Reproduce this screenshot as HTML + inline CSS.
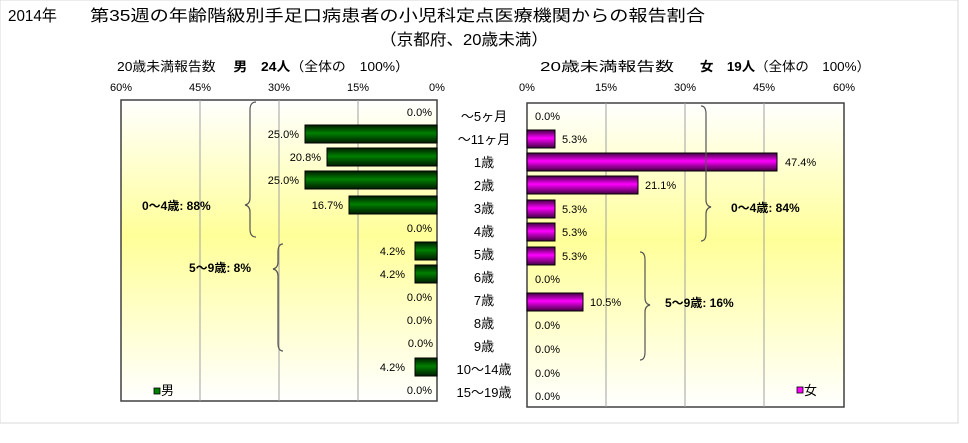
<!DOCTYPE html>
<html><head><meta charset="utf-8"><style>
body{margin:0;background:#fff;}
svg{display:block;font-family:"Liberation Sans","Noto Sans CJK JP",sans-serif;}
</style></head><body>
<svg width="968" height="443" viewBox="0 0 968 443" xmlns="http://www.w3.org/2000/svg">
<defs>
<linearGradient id="bg" x1="0" y1="0" x2="0" y2="1">
<stop offset="0" stop-color="#ffffff"/><stop offset="0.45" stop-color="#ffff99"/><stop offset="1" stop-color="#ffffff"/>
</linearGradient>
<linearGradient id="g" x1="0" y1="0" x2="0" y2="1">
<stop offset="0" stop-color="#001a00"/><stop offset="0.45" stop-color="#008000"/><stop offset="1" stop-color="#001a00"/>
</linearGradient>
<linearGradient id="m" x1="0" y1="0" x2="0" y2="1">
<stop offset="0" stop-color="#400040"/><stop offset="0.45" stop-color="#ff00ff"/><stop offset="1" stop-color="#400040"/>
</linearGradient>
</defs>
<rect x="0" y="0" width="958" height="423" fill="#fff" stroke="#d8d8d8"/>
<text x="8" y="21" font-size="16" textLength="49" lengthAdjust="spacingAndGlyphs">2014年</text>
<text x="90" y="21" font-size="16" textLength="615" lengthAdjust="spacingAndGlyphs">第35週の年齢階級別手足口病患者の小児科定点医療機関からの報告割合</text>
<text x="380" y="45" font-size="16" textLength="168" lengthAdjust="spacingAndGlyphs">（京都府、20歳未満）</text>
<text x="117" y="71" font-size="13" textLength="292" lengthAdjust="spacingAndGlyphs">20歳未満報告数　 <tspan font-weight="bold">男　24人</tspan>（全体の　100%）</text>
<text x="540" y="71" font-size="13" textLength="134" lengthAdjust="spacingAndGlyphs">20歳未満報告数</text>
<text x="700" y="71" font-size="13" textLength="170" lengthAdjust="spacingAndGlyphs"><tspan font-weight="bold">女　19人</tspan>（全体の　100%）</text>
<g font-size="11" text-anchor="middle">
<text x="121" y="91">60%</text><text x="200" y="91">45%</text><text x="279" y="91">30%</text><text x="358" y="91">15%</text><text x="437" y="91">0%</text>
<text x="527" y="91">0%</text><text x="606" y="91">15%</text><text x="685" y="91">30%</text><text x="764" y="91">45%</text><text x="844" y="91">60%</text>
</g>
<rect x="121" y="100" width="316" height="301" fill="url(#bg)" stroke="#404040" stroke-width="1.5"/>
<rect x="527" y="103" width="317" height="304" fill="url(#bg)" stroke="#404040" stroke-width="1.5"/>
<g stroke="#a0a0a0">
<line x1="200" y1="100" x2="200" y2="401"/><line x1="279" y1="100" x2="279" y2="401"/><line x1="358" y1="100" x2="358" y2="401"/>
<line x1="606" y1="103" x2="606" y2="407"/><line x1="685" y1="103" x2="685" y2="407"/><line x1="764" y1="103" x2="764" y2="407"/>
</g>
<g fill="url(#g)" stroke="#000">
<rect x="305" y="125" width="132" height="18"/>
<rect x="327" y="148" width="110" height="18"/>
<rect x="305" y="171" width="132" height="18"/>
<rect x="349" y="196" width="88" height="18"/>
<rect x="415" y="242" width="22" height="18"/>
<rect x="415" y="265" width="22" height="18"/>
<rect x="415" y="358" width="22" height="18"/>
</g>
<g font-size="11" text-anchor="end">
<text x="432" y="116">0.0%</text><text x="299" y="138">25.0%</text><text x="321" y="161">20.8%</text><text x="299" y="184">25.0%</text><text x="343" y="209">16.7%</text>
<text x="432" y="232">0.0%</text><text x="405" y="255">4.2%</text><text x="405" y="278">4.2%</text><text x="432" y="301">0.0%</text><text x="432" y="324">0.0%</text><text x="433" y="347">0.0%</text><text x="405" y="371">4.2%</text><text x="432" y="394">0.0%</text>
</g>
<g fill="url(#m)" stroke="#000">
<rect x="527" y="130" width="28" height="18"/>
<rect x="527" y="153" width="250" height="18"/>
<rect x="527" y="176" width="111" height="18"/>
<rect x="527" y="200" width="28" height="18"/>
<rect x="527" y="223" width="28" height="18"/>
<rect x="527" y="247" width="28" height="18"/>
<rect x="527" y="293" width="56" height="18"/>
</g>
<g font-size="11">
<text x="535" y="120">0.0%</text><text x="562" y="143">5.3%</text><text x="785" y="166">47.4%</text><text x="645" y="189">21.1%</text><text x="562" y="213">5.3%</text><text x="562" y="236">5.3%</text><text x="562" y="260">5.3%</text>
<text x="535" y="283">0.0%</text><text x="590" y="306">10.5%</text><text x="535" y="329">0.0%</text><text x="535" y="353">0.0%</text><text x="535" y="377">0.0%</text><text x="535" y="400">0.0%</text>
</g>
<g font-size="13" text-anchor="middle">
<text x="484" y="121">～5ヶ月</text><text x="484" y="144">～11ヶ月</text><text x="484" y="167">1歳</text><text x="484" y="190">2歳</text><text x="484" y="213">3歳</text><text x="484" y="236">4歳</text><text x="484" y="259">5歳</text><text x="484" y="282">6歳</text><text x="484" y="305">7歳</text><text x="484" y="328">8歳</text><text x="484" y="351">9歳</text><text x="484" y="374">10～14歳</text><text x="484" y="397">15～19歳</text>
</g>
<g fill="none" stroke="#555" stroke-width="1.2">
<path d="M256 102 Q250 102 250 110 L250 198 Q250 204 245 205 Q250 206 250 212 L250 229 Q250 237 256 237"/>
<path d="M283 244 Q278 244 278 252 L278 262 Q278 268 273 269 Q278 270 278 276 L278 343 Q278 351 283 351"/>
<path d="M701 106 Q706 106 706 114 L706 200 Q706 206 711 207 Q706 208 706 214 L706 233 Q706 241 701 241"/>
<path d="M640 252 Q645 252 645 260 L645 298 Q645 304 650 305 Q645 306 645 312 L645 352 Q645 360 640 360"/>
</g>
<g font-size="12" font-weight="bold">
<text x="142" y="210">0～4歳: 88%</text>
<text x="189" y="272">5～9歳: 8%</text>
<text x="731" y="212">0～4歳: 84%</text>
<text x="665" y="307">5～9歳: 16%</text>
</g>
<rect x="154" y="388" width="6" height="6" fill="#008000" stroke="#000" stroke-width="0.8"/>
<text x="161" y="395" font-size="13">男</text>
<rect x="797" y="387" width="6" height="6" fill="#ff00ff" stroke="#000" stroke-width="0.8"/>
<text x="804" y="395" font-size="13">女</text>
</svg>
</body></html>
